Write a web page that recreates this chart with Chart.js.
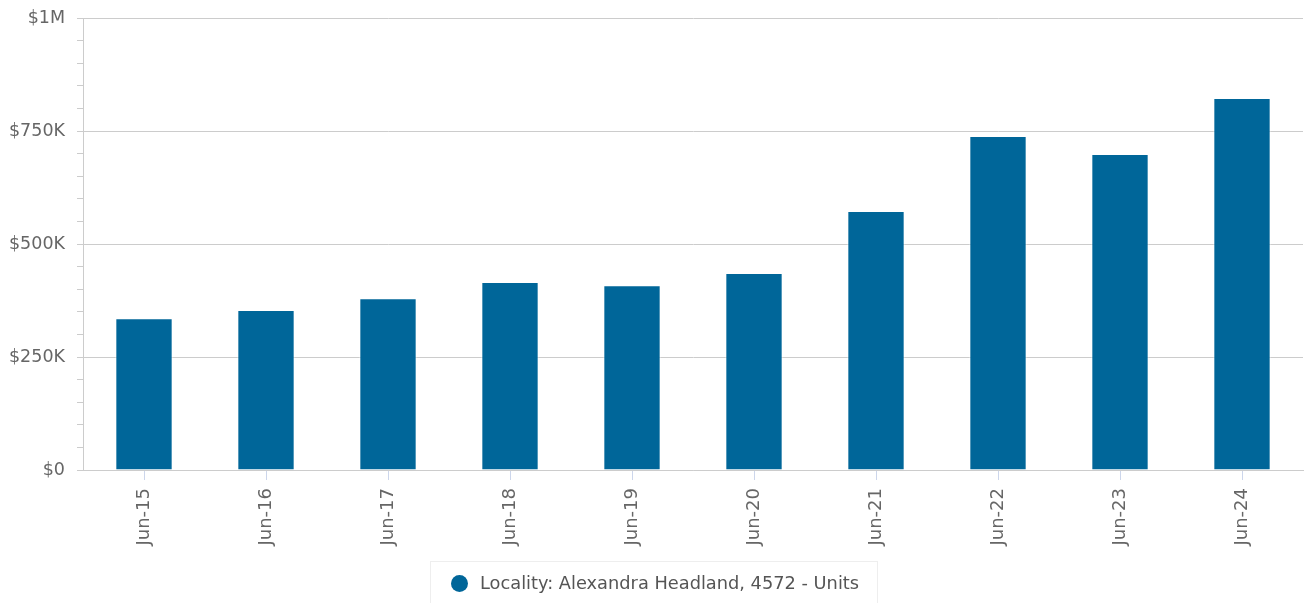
<!DOCTYPE html>
<html>
<head>
<meta charset="utf-8">
<script src="https://cdn.jsdelivr.net/npm/chart.js@4/dist/chart.umd.min.js"></script>
<style>
  html, body { margin: 0; padding: 0; background: #fff; overflow: hidden; }
  #wrap { position: relative; width: 1306px; height: 603px; }
  #legend {
    position: absolute; left: 430px; top: 561px; width: 448px; height: 50px;
    border: 1px solid #eeeeee; box-sizing: border-box;
    font-family: "DejaVu Sans", sans-serif; font-size: 17.8px; color: #555;
  }
  #legend .dot {
    position: absolute; left: 20px; top: 13px; width: 17px; height: 17px;
    border-radius: 50%; background: #006699;
  }
  #legend .txt { position: absolute; left: 49px; top: 10px; white-space: nowrap; }
</style>
</head>
<body>
<div id="wrap">
  <canvas id="chart" width="1306" height="603"></canvas>
  <div id="legend"><span class="dot"></span><span class="txt" id="legendText"></span></div>
</div>
<script>
const categories = ['Jun-15', 'Jun-16', 'Jun-17', 'Jun-18', 'Jun-19', 'Jun-20', 'Jun-21', 'Jun-22', 'Jun-23', 'Jun-24'];
const medianValues = [336000, 354000, 380000, 416000, 409000, 436000, 573000, 739000, 699000, 823000];
const seriesName = 'Locality: Alexandra Headland, 4572 - Units';
const yTickLabels = { 0: '$0', 250000: '$250K', 500000: '$500K', 750000: '$750K', 1000000: '$1M' };

document.getElementById('legendText').textContent = seriesName;

const ctx = document.getElementById('chart').getContext('2d');

new Chart(ctx, {
  type: 'bar',
  data: {
    labels: categories,
    datasets: [{
      label: seriesName,
      data: medianValues,
      backgroundColor: '#006699',
      borderColor: 'rgba(255,255,255,0.6)',
      borderWidth: 1,
      categoryPercentage: 1,
      barPercentage: 0.47
    }]
  },
  options: {
    responsive: false,
    animation: false,
    layout: { padding: { top: 0, right: 3, left: 0, bottom: 0 } },
    plugins: {
      legend: { display: false },
      tooltip: { enabled: false }
    },
    scales: {
      x: {
        offset: true,
        // keep the plot bottom at y=470
        afterFit: (scale) => { scale.height = 133; },
        grid: {
          offset: false,
          drawOnChartArea: false,
          tickColor: '#ccd6eb',
          tickLength: 10
        },
        border: { color: '#cccccc', width: 1 },
        ticks: {
          minRotation: 90,
          maxRotation: 90,
          padding: 8,
          color: '#666666',
          font: { family: 'DejaVu Sans', size: 18 }
        }
      },
      y: {
        min: 0,
        max: 1000000,
        // fixed axis width and top offset so the plot starts at (83, 18)
        afterFit: (scale) => {
          scale.width = 83;
          scale.paddingTop = 18;
          scale.paddingBottom = 0;
        },
        grid: {
          color: (c) => (c.tick && c.tick.value % 250000 === 0 ? '#cccccc' : 'transparent'),
          tickColor: '#cccccc',
          tickLength: 6,
          lineWidth: 1
        },
        border: { color: '#cccccc', width: 1 },
        ticks: {
          stepSize: 50000,
          autoSkip: false,
          padding: 12,
          color: '#666666',
          font: { family: 'DejaVu Sans', size: 17.5 },
          callback: (v) => (yTickLabels[v] !== undefined ? yTickLabels[v] : '')
        }
      }
    }
  }
});
</script>
</body>
</html>
